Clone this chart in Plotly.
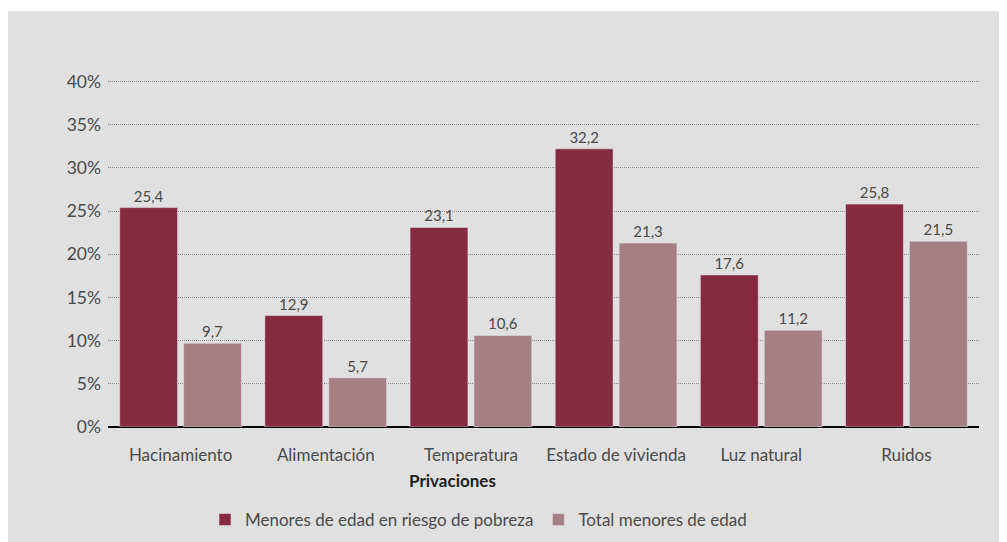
import plotly.graph_objects as go

categories = ["Hacinamiento", "Alimentación", "Temperatura", "Estado de vivienda", "Luz natural", "Ruidos"]
riesgo_pobreza = [25.4, 12.9, 23.1, 32.2, 17.6, 25.8]
total_menores = [9.7, 5.7, 10.6, 21.3, 11.2, 21.5]
series_names = ["Menores de edad en riesgo de pobreza", "Total menores de edad"]
y_ticks = [0, 5, 10, 15, 20, 25, 30, 35, 40]
y_tick_labels = [f"{v}%" for v in y_ticks]
y_max = 40.4

OFF = 8  # page body margin
W, H = 1007, 542
y0_px, y40_px = 427, 81
top_px = y0_px - (y0_px - y40_px) * y_max / 40
L = 108 - OFF
T = round(top_px) - OFF
R = W - (979 - OFF)
B = H - (y0_px - OFF)
pw, ph = W - L - R, H - T - B

def px_x(sx):
    return (sx - OFF - L) / pw

def px_y(sy):
    return ((H - B) - (sy - OFF)) / ph

def fmt(v):
    return f"{v:.1f}".replace(".", ",")

font_family = "Lato, 'Open Sans', sans-serif"
txt_color = "#4a4a4a"
fig = go.Figure()
fig.add_trace(go.Bar(x=categories, y=riesgo_pobreza, name=series_names[0],
                     marker_color="#862a42",
                     text=[fmt(v) for v in riesgo_pobreza], textposition="outside",
                     textfont=dict(size=15, color=txt_color, family=font_family), cliponaxis=False))
fig.add_trace(go.Bar(x=categories, y=total_menores, name=series_names[1],
                     marker_color="#a67f84",
                     text=[fmt(v) for v in total_menores], textposition="outside",
                     textfont=dict(size=15, color=txt_color, family=font_family), cliponaxis=False))

fig.update_layout(
    width=W, height=H,
    margin=dict(l=L, r=R, t=T, b=B, autoexpand=False),
    paper_bgcolor="white", plot_bgcolor="rgba(0,0,0,0)",
    barmode="group", bargap=0.12, bargroupgap=0.094,
    font=dict(family=font_family, color=txt_color, size=16),
    legend=dict(orientation="h", x=px_x(205), xanchor="left", y=px_y(520), yanchor="middle",
                font=dict(size=17, color=txt_color), bgcolor="rgba(0,0,0,0)",
                itemwidth=30, traceorder="normal"),
    showlegend=True,
)
fig.update_yaxes(range=[0, y_max], tickvals=y_ticks, ticktext=y_tick_labels,
                 showgrid=True, gridcolor="#8a8a8a", griddash="1px,1px", gridwidth=1,
                 zeroline=True, zerolinecolor="#000", zerolinewidth=2,
                 showline=False, ticks="", ticklabelstandoff=6,
                 tickfont=dict(size=17.5, color=txt_color))
fig.update_xaxes(showgrid=False, showline=False, ticks="", ticklabelstandoff=16,
                 tickfont=dict(size=17, color=txt_color))

# gray background panel
fig.add_shape(type="rect", xref="paper", yref="paper", layer="below",
              x0=px_x(8), x1=px_x(1030),
              y0=px_y(560), y1=px_y(11),
              fillcolor="#e0e0e0", line_width=0)
fig.add_annotation(text="<b>Privaciones</b>", xref="paper", yref="paper",
                   x=px_x(452), y=px_y(481), showarrow=False,
                   xanchor="center", yanchor="middle",
                   font=dict(size=17, color="#222"))

fig.write_html("out.html")
